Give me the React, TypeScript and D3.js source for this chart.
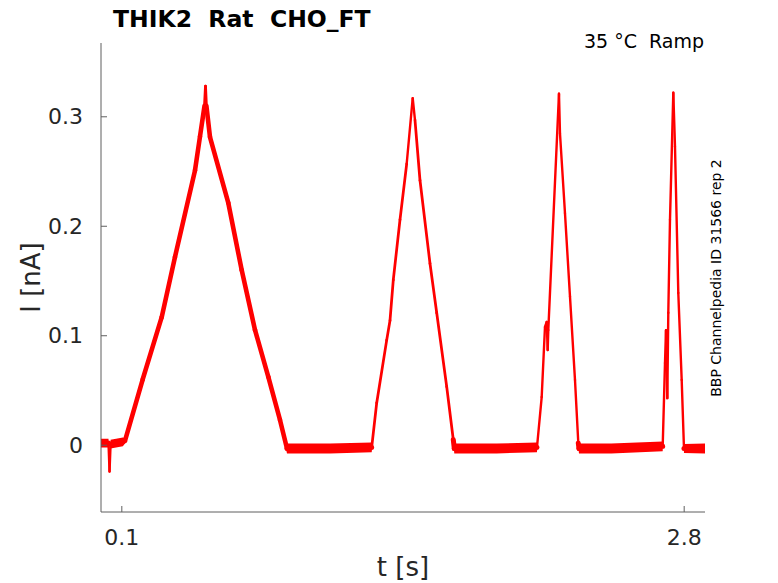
import React from "react";
import * as d3 from "d3";

// time [s]
const time = [
  0.0, 0.036, 0.041, 0.046, 0.105, 0.115, 0.2, 0.2914, 0.3553, 0.4513, 0.4753, 0.497, 0.5017, 0.506,
  0.5233, 0.6112, 0.6755, 0.7394, 0.8033, 0.8594, 0.893, 1.1, 1.2997,
  1.3237, 1.3717, 1.3876, 1.4034, 1.4356, 1.4677, 1.4966, 1.5076, 1.5316, 1.5796, 1.6118, 1.6598, 1.6915, 1.6963, 1.9, 2.0933,
  2.1159, 2.1317, 2.1399, 2.1447, 2.1476, 2.1989, 2.2037, 2.2277, 2.2518, 2.2758, 2.2917, 2.295, 2.45, 2.6969,
  2.7079, 2.7127, 2.719, 2.7238, 2.7319, 2.7478, 2.7559, 2.7718, 2.7881, 2.7991, 2.9,
];
// current [nA]
const current = [
  0.002, 0.002, -0.024, 0.001, 0.003, 0.004, 0.06, 0.117, 0.172, 0.251, 0.282, 0.31, 0.328, 0.31,
  0.2815, 0.2213, 0.16, 0.1053, 0.0624, 0.0231, -0.003, -0.003, -0.002,
  0.0386, 0.096, 0.114, 0.151, 0.206, 0.257, 0.317, 0.297, 0.242, 0.166, 0.121, 0.0535, 0.005, -0.003, -0.003, -0.002,
  0.044, 0.108, 0.1126, 0.087, 0.105, 0.321, 0.285, 0.212, 0.1357, 0.0596, 0.0018, -0.003, -0.003, -0.001,
  0.075, 0.105, 0.043, 0.121, 0.206, 0.322, 0.273, 0.139, 0.0596, -0.003, -0.003,
];
// noise half-width [nA]
const noise = [
  0.004, 0.004, 0.0, 0.004, 0.004, 0.0025, 0.0025, 0.0025, 0.0025, 0.0025, 0.0025, 0.0025, 0.0005, 0.0025,
  0.0025, 0.0025, 0.0025, 0.0025, 0.0025, 0.0025, 0.0045, 0.0045, 0.0045,
  0.0004, 0.0004, 0.0004, 0.0004, 0.0004, 0.0004, 0.0, 0.0004, 0.0004, 0.0004, 0.0004, 0.0004, 0.004, 0.0045, 0.0045, 0.0045,
  0.0, 0.0, 0.0, 0.0, 0.0, 0.0, 0.0, 0.0, 0.0, 0.0, 0.004, 0.0045, 0.0045, 0.0045,
  0.0, 0.0, 0.0, 0.0, 0.0, 0.0, 0.0, 0.0, 0.0, 0.004, 0.0045,
];

const xTicks = [0.1, 2.8];
const yTicks = [0, 0.1, 0.2, 0.3];
const xDomain = [0, 2.9];
const yDomain = [-0.061, 0.3674];

const title = "THIK2  Rat  CHO_FT";
const subtitle = "35 °C  Ramp";
const sideNote = "BBP Channelpedia ID 31566 rep 2";

export default function App() {
  const W = 778, H = 583;
  const left = 101, right = 705, top = 43, bottom = 512;
  const x = d3.scaleLinear().domain(xDomain).range([left, right]);
  const y = d3.scaleLinear().domain(yDomain).range([bottom, top]);
  const pxPerNA = y(0) - y(1);
  const pts = time.map((t, i) => ({ t, v: current[i], n: noise[i] }));
  const segs = d3.pairs(pts);
  const area =
    d3.area<any>().x((d) => x(d.t)).y0((d) => y(d.v - d.n)).y1((d) => y(d.v + d.n))(pts) || "";
  const font = "'DejaVu Sans', sans-serif";
  const axisColor = "#5f5f5f";
  const textColor = "#262626";
  const pre = { whiteSpace: "pre" as const };
  return (
    <svg
      width={W}
      height={H}
      style={{ position: "absolute", left: 0, top: 0, display: "block", background: "#fff" }}
      fontFamily={font}
    >
      <rect x={0} y={0} width={W} height={H} fill="#fff" />
      <defs>
        <clipPath id="plotclip">
          <rect x={left} y={top} width={right - left} height={bottom - top} />
        </clipPath>
      </defs>
      <g clipPath="url(#plotclip)">
        <path d={area} fill="#ff0000" stroke="none" />
        <g stroke="#ff0000" strokeLinecap="round" fill="none">
          {segs.map(([a, b], i) => (
            <line
              key={i}
              x1={x(a.t)}
              y1={y(a.v)}
              x2={x(b.t)}
              y2={y(b.v)}
              strokeWidth={2.4 + Math.min(a.n, b.n, 0.003) * pxPerNA * 0.8}
            />
          ))}
        </g>
      </g>
      {/* axes */}
      <line x1={left} y1={top} x2={left} y2={bottom} stroke={axisColor} strokeWidth={1} />
      <line x1={left} y1={bottom} x2={right} y2={bottom} stroke={axisColor} strokeWidth={1} />
      {yTicks.map((t) => (
        <g key={"y" + t}>
          <line x1={left} x2={left + 6} y1={y(t)} y2={y(t)} stroke={axisColor} />
          <text x={left - 18} y={y(t)} dy="0.35em" textAnchor="end" fontSize={22} fill={textColor}>
            {t === 0 ? "0" : d3.format(".1f")(t)}
          </text>
        </g>
      ))}
      {xTicks.map((t) => (
        <g key={"x" + t}>
          <line x1={x(t)} x2={x(t)} y1={bottom} y2={bottom - 6} stroke={axisColor} />
          <text x={x(t)} y={bottom + 33} textAnchor="middle" fontSize={22} fill={textColor}>
            {d3.format(".1f")(t)}
          </text>
        </g>
      ))}
      <text x={403} y={576} textAnchor="middle" fontSize={26} fill={textColor} style={pre}>
        t [s]
      </text>
      <text
        transform={`translate(40,${(top + bottom) / 2}) rotate(-90)`}
        textAnchor="middle"
        fontSize={26}
        fill={textColor}
        style={pre}
      >
        I [nA]
      </text>
      <text x={113} y={27} fontSize={23.5} fontWeight="bold" fill="#000" style={pre}>
        {title}
      </text>
      <text x={704} y={48} textAnchor="end" fontSize={19} fill="#000" style={pre}>
        {subtitle}
      </text>
      <text
        transform={`translate(721,278) rotate(-90)`}
        textAnchor="middle"
        fontSize={14}
        fill="#000"
        style={pre}
      >
        {sideNote}
      </text>
    </svg>
  );
}
